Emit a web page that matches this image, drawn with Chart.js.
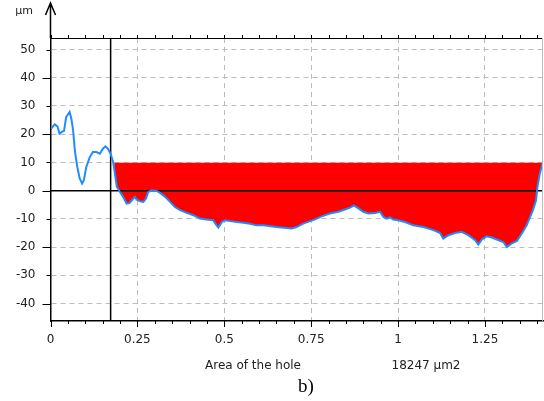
<!doctype html>
<html>
  <head>
    <script src="https://cdn.jsdelivr.net/npm/chart.js"></script>
    <meta name="viewport" content="width=device-width, initial-scale=1" />
    <style>
      html,
      body {
        margin: 0;
        padding: 0;
        background: #fff;
      }
    </style>
  </head>
  <body>
    <canvas id="profileChart" width="544" height="401"></canvas>
    <script>
      // hole profile (x: position, y: depth in µm)
      const profileX = [
        0.002, 0.012, 0.02, 0.026, 0.033, 0.039, 0.045, 0.055, 0.06, 0.065,
        0.07, 0.077, 0.084, 0.091, 0.096, 0.103, 0.113, 0.122, 0.132, 0.142,
        0.151, 0.158, 0.165, 0.173, 0.18, 0.183, 0.191, 0.2, 0.209, 0.219,
        0.227, 0.234, 0.243, 0.248, 0.258, 0.267, 0.275, 0.281, 0.291, 0.306,
        0.315, 0.33, 0.344, 0.358, 0.373, 0.392, 0.411, 0.43, 0.449, 0.468,
        0.478, 0.483, 0.493, 0.502, 0.517, 0.536, 0.555, 0.574, 0.593, 0.612,
        0.651, 0.68, 0.694, 0.708, 0.727, 0.747, 0.761, 0.78, 0.804, 0.828,
        0.847, 0.862, 0.873, 0.886, 0.9, 0.915, 0.934, 0.948, 0.958, 0.967,
        0.977, 0.986, 1.001, 1.02, 1.044, 1.073, 1.102, 1.121, 1.13, 1.145,
        1.164, 1.183, 1.202, 1.222, 1.231, 1.241, 1.255, 1.27, 1.284, 1.303,
        1.313, 1.327, 1.342, 1.356, 1.37, 1.38, 1.388, 1.397, 1.401, 1.407,
        1.414, 1.42,
      ];
      const profileY = [
        22.0, 23.5, 22.8, 20.2, 20.8, 21.2, 26.1, 27.9, 25.5, 21.4,
        14.3, 8.4, 4.3, 2.5, 3.7, 8.4, 11.9, 13.7, 13.7, 13.1,
        14.9, 15.7, 14.9, 13.1, 10.2, 8.0, 1.3, -0.5, -2.2, -4.6,
        -4.4, -3.4, -2.2, -3.2, -3.8, -4.0, -2.8, -0.5, 0.1, -0.1,
        -0.8, -2.2, -4.0, -5.8, -6.9, -7.9, -8.7, -9.9, -10.2, -10.5,
        -12.3, -13.1, -11.1, -10.5, -10.8, -11.1, -11.4, -11.7, -12.3, -12.3,
        -12.9, -13.2, -13.4, -12.9, -11.7, -10.8, -10.2, -9.1, -8.1, -7.5,
        -6.7, -6.0, -5.2, -6.3, -7.5, -8.1, -7.9, -7.5, -9.3, -9.9,
        -9.5, -10.2, -10.5, -11.1, -12.3, -12.9, -14.0, -15.0, -17.0, -15.8,
        -15.0, -14.6, -15.8, -17.6, -19.1, -17.3, -16.2, -16.6, -17.3, -18.2,
        -20.0, -18.7, -17.8, -15.2, -12.3, -9.3, -6.9, -3.4, 1.3, 5.5,
        9.0, 11.0,
      ];
      const fillStartX = 0.183; // red area begins here
      const fillLevel = 10; // top edge of the red area
      const markerX = 0.173; // black vertical marker
      const xTicks = [0, 0.25, 0.5, 0.75, 1, 1.25];
      const yTicks = [-40, -30, -20, -10, 0, 10, 20, 30, 40, 50];
      const xRange = [0, 1.417];
      const yRange = [-46.2, 54.1];
      const yUnit = "µm";
      const areaLabel = "Area of the hole";
      const areaValue = "18247 µm2";
      const caption = "b)";

      const profile = profileX.map((x, i) => ({ x: x, y: profileY[i] }));
      const hole = profile.filter((p) => p.x >= fillStartX);

      const labelFont = { family: "DejaVu Sans", size: 12 };
      const gridColor = "#bdbdbd";

      // extra frame: tick marks, top border, arrow, captions
      const framePlugin = {
        id: "frame",
        afterDraw(chart) {
          const { ctx, chartArea: a, scales } = chart;
          const xs = scales.x;
          const ys = scales.y;
          ctx.save();
          ctx.strokeStyle = "#000";
          ctx.lineWidth = 1;
          ctx.beginPath();
          // top border
          ctx.moveTo(a.left, Math.round(a.top) + 0.5);
          ctx.lineTo(a.right, Math.round(a.top) + 0.5);
          // x ticks every 0.05, top and bottom
          for (let i = 0; i * 0.05 <= xRange[1]; i++) {
            const px = Math.round(xs.getPixelForValue(i * 0.05)) + 0.5;
            const len = i % 5 === 0 ? 6 : 3;
            ctx.moveTo(px, a.bottom);
            ctx.lineTo(px, a.bottom + len);
            ctx.moveTo(px, a.top);
            ctx.lineTo(px, a.top - 3);
          }
          // y ticks
          yTicks.forEach((v) => {
            const py = Math.round(ys.getPixelForValue(v)) + 0.5;
            const len = v % 20 === 0 ? 8 : 4;
            ctx.moveTo(a.left - len, py);
            ctx.lineTo(a.left, py);
          });
          ctx.stroke();

          // right border
          ctx.strokeStyle = gridColor;
          ctx.beginPath();
          ctx.moveTo(a.right - 0.5, a.top);
          ctx.lineTo(a.right - 0.5, a.bottom);
          ctx.stroke();

          // arrow on the y axis
          ctx.strokeStyle = "#000";
          ctx.lineWidth = 1.5;
          ctx.beginPath();
          ctx.moveTo(a.left, a.top);
          ctx.lineTo(a.left, 3);
          ctx.moveTo(a.left - 5, 15);
          ctx.lineTo(a.left, 3);
          ctx.lineTo(a.left + 5, 15);
          ctx.stroke();

          ctx.fillStyle = "#222";
          ctx.font = "11px 'DejaVu Sans'";
          ctx.textAlign = "center";
          ctx.textBaseline = "middle";
          ctx.fillText(yUnit, 24, 11);

          ctx.font = "12px 'DejaVu Sans'";
          ctx.fillText(areaLabel, 253, 366);
          ctx.fillText(areaValue, 426, 366);

          ctx.fillStyle = "#000";
          ctx.font = "19px 'Liberation Serif'";
          ctx.fillText(caption, 306, 387);
          ctx.restore();
        },
      };

      const ctx = document.getElementById("profileChart").getContext("2d");
      const profileChart = new Chart(ctx, {
        type: "line",
        data: {
          datasets: [
            {
              label: "profile",
              data: profile,
              borderColor: "#1e8cff",
              borderWidth: 2,
              pointRadius: 0,
              tension: 0,
              fill: false,
              order: 0,
            },
            {
              label: "zero",
              data: [
                { x: xRange[0], y: 0 },
                { x: xRange[1], y: 0 },
              ],
              borderColor: "#000",
              borderWidth: 1.5,
              pointRadius: 0,
              fill: false,
              order: 1,
            },
            {
              label: "marker",
              data: [
                { x: markerX, y: yRange[0] },
                { x: markerX, y: yRange[1] },
              ],
              borderColor: "#000",
              borderWidth: 1.5,
              pointRadius: 0,
              fill: false,
              order: 1,
            },
            {
              label: "hole",
              data: hole,
              borderWidth: 0,
              borderColor: "rgba(0,0,0,0)",
              pointRadius: 0,
              fill: {
                target: { value: fillLevel },
                above: "rgba(0,0,0,0)",
                below: "#ff0000",
              },
              order: 3,
            },
          ],
        },
        options: {
          responsive: false,
          animation: false,
          events: [],
          layout: { padding: { top: 38, right: 1, left: 0, bottom: 0 } },
          plugins: {
            legend: { display: false },
            tooltip: { enabled: false },
          },
          scales: {
            x: {
              type: "linear",
              min: xRange[0],
              max: xRange[1],
              z: 1,
              afterBuildTicks: (s) => {
                s.ticks = xTicks.map((v) => ({ value: v }));
              },
              afterFit: (s) => {
                s.height = 80;
              },
              ticks: {
                font: labelFont,
                color: "#222",
                padding: 12,
                maxRotation: 0,
                autoSkip: false,
                callback: (v) => String(v),
              },
              grid: {
                drawTicks: false,
                color: (c) => (c.tick && c.tick.value === 0 ? "rgba(0,0,0,0)" : gridColor),
              },
              border: { color: "#000", width: 1.5, dash: [5, 4] },
            },
            y: {
              min: yRange[0],
              max: yRange[1],
              z: 1,
              afterBuildTicks: (s) => {
                s.ticks = yTicks.map((v) => ({ value: v }));
              },
              afterFit: (s) => {
                s.width = 50.5;
              },
              ticks: {
                font: labelFont,
                color: "#222",
                padding: 15,
                callback: (v) => String(v),
              },
              grid: {
                drawTicks: false,
                color: (c) => (c.tick && c.tick.value === 0 ? "rgba(0,0,0,0)" : gridColor),
              },
              border: { color: "#000", width: 1.5, dash: [5, 4] },
            },
          },
        },
        plugins: [framePlugin],
      });
    </script>
  </body>
</html>
